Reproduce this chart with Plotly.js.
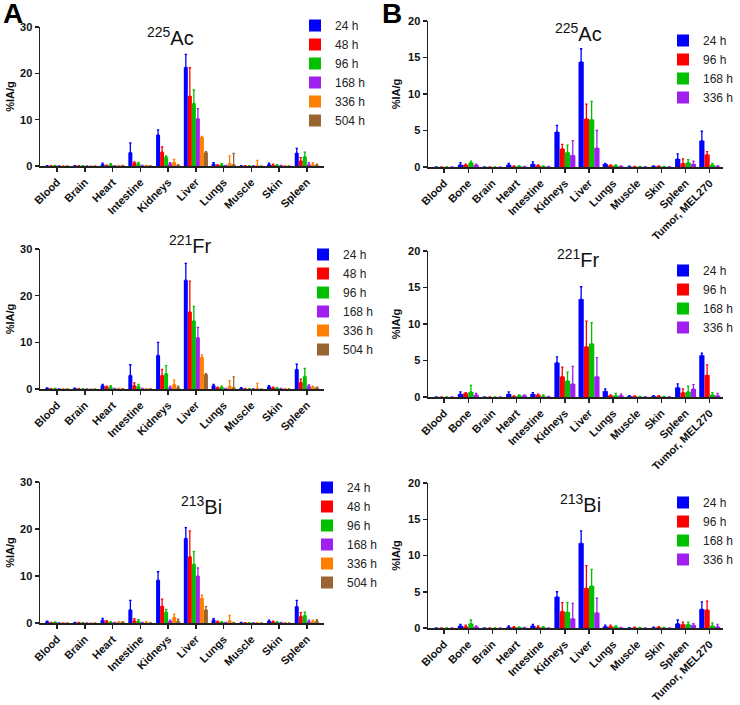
<!DOCTYPE html>
<html><head><meta charset="utf-8">
<script src="https://cdn.plot.ly/plotly-3.0.1.min.js"></script>
<style>html,body{margin:0;padding:0;background:#fff}#chart{width:740px;height:705px}</style>
</head><body><div id="chart"></div>
<script>
// ---- data ----
const organsA = ["Blood","Brain","Heart","Intestine","Kidneys","Liver","Lungs","Muscle","Skin","Spleen"];
const organsB = ["Blood","Bone","Brain","Heart","Intestine","Kidneys","Liver","Lungs","Muscle","Skin","Spleen","Tumor, MEL270"];
const timesA = ["24 h","48 h","96 h","168 h","336 h","504 h"];
const timesB = ["24 h","96 h","168 h","336 h"];
const colorsA = ["#0000FF","#FF0000","#00C000","#A020F0","#FF8000","#996633"];
const colorsB = ["#0000FF","#FF0000","#00C000","#A020F0"];

// Panel A, 225Ac
const ac225A_mean = [
  [0.05,0.05,0.3,2.9,6.7,21.3,0.4,0.05,0.3,2.8],
  [0.05,0.03,0.1,0.7,3.0,15.1,0.2,0.03,0.2,1.1],
  [0.1,0.03,0.3,0.5,1.9,13.5,0.3,0.03,0.2,2.0],
  [0.03,0.02,0.05,0.1,0.5,10.2,0.1,0.03,0.1,0.3],
  [0.03,0.02,0.1,0.1,0.8,6.2,0.5,0.1,0.05,0.3],
  [0.02,0.02,0.1,0.05,0.2,2.9,0.3,0.02,0.02,0.2]];
const ac225A_sd = [
  [0.05,0.02,0.3,2.1,1.1,2.8,0.3,0.02,0.3,1.0],
  [0.03,0.02,0.1,0.2,1.1,6.1,0.1,0.02,0.2,0.7],
  [0.05,0.02,0.2,0.3,0.3,2.9,0.2,0.02,0.1,1.0],
  [0.02,0.01,0.05,0.05,0.2,2.2,0.05,0.02,0.05,0.4],
  [0.02,0.01,0.05,0.05,0.6,0.2,1.7,1.1,0.05,0.4],
  [0.01,0.01,0.05,0.03,0.1,0.2,2.4,0.02,0.01,0.2]];
// Panel A, 221Fr
const fr221A_mean = [
  [0.2,0.15,0.7,2.9,7.2,23.3,0.7,0.2,0.5,4.2],
  [0.05,0.05,0.5,0.7,2.9,16.5,0.3,0.05,0.3,1.4],
  [0.1,0.05,0.4,0.6,3.3,14.6,0.4,0.05,0.2,2.7],
  [0.05,0.03,0.1,0.1,0.3,11.0,0.1,0.03,0.1,0.6],
  [0.05,0.03,0.1,0.05,1.0,6.8,0.6,0.1,0.05,0.4],
  [0.03,0.02,0.05,0.03,0.3,3.1,0.3,0.02,0.02,0.3]];
const fr221A_sd = [
  [0.05,0.05,0.3,2.3,2.8,3.6,0.3,0.1,0.2,1.1],
  [0.03,0.02,0.1,0.6,1.3,6.6,0.1,0.02,0.1,0.7],
  [0.05,0.02,0.3,0.4,1.7,3.1,0.2,0.02,0.1,1.7],
  [0.02,0.01,0.05,0.05,0.3,2.2,0.05,0.02,0.05,0.3],
  [0.02,0.01,0.05,0.03,0.9,0.5,1.2,1.1,0.03,0.2],
  [0.01,0.01,0.03,0.02,0.3,0.2,2.3,0.01,0.01,0.1]];
// Panel A, 213Bi
const bi213A_mean = [
  [0.3,0.1,0.6,2.8,9.1,18.0,0.6,0.1,0.4,3.5],
  [0.1,0.1,0.3,0.5,3.6,14.1,0.3,0.05,0.3,1.4],
  [0.2,0.05,0.2,0.4,2.3,12.5,0.2,0.05,0.2,1.6],
  [0.05,0.03,0.1,0.1,0.4,10.0,0.1,0.03,0.1,0.3],
  [0.05,0.03,0.2,0.1,1.2,5.3,0.5,0.03,0.05,0.3],
  [0.03,0.02,0.2,0.03,0.4,2.8,0.1,0.02,0.02,0.4]];
const bi213A_sd = [
  [0.1,0.05,0.4,2.0,1.8,2.3,0.3,0.05,0.2,1.3],
  [0.05,0.05,0.2,0.4,1.5,5.5,0.1,0.02,0.1,0.8],
  [0.05,0.02,0.1,0.3,0.6,2.7,0.1,0.02,0.1,0.7],
  [0.02,0.01,0.05,0.05,0.2,1.7,0.05,0.02,0.05,0.3],
  [0.02,0.01,0.1,0.2,0.7,0.6,1.1,0.02,0.03,0.3],
  [0.01,0.01,0.1,0.02,0.4,0.7,0.05,0.01,0.01,0.3]];
// Panel B, 225Ac
const ac225B_mean = [
  [0.02,0.3,0.02,0.3,0.4,4.8,14.4,0.4,0.05,0.1,1.1,3.6],
  [0.02,0.3,0.02,0.1,0.2,2.5,6.6,0.2,0.05,0.1,0.5,1.7],
  [0.02,0.6,0.02,0.1,0.1,2.0,6.5,0.2,0.05,0.05,0.6,0.3],
  [0.02,0.3,0.01,0.05,0.05,1.6,2.6,0.1,0.03,0.03,0.4,0.1]];
const ac225B_sd = [
  [0.01,0.3,0.01,0.2,0.3,0.9,1.8,0.1,0.05,0.05,0.7,1.3],
  [0.01,0.1,0.01,0.05,0.1,0.6,2.0,0.1,0.02,0.05,0.6,0.4],
  [0.01,0.2,0.01,0.1,0.05,1.0,2.5,0.1,0.02,0.02,0.4,0.2],
  [0.01,0.1,0.01,0.03,0.03,2.0,2.4,0.05,0.02,0.02,0.4,0.1]];
// Panel B, 221Fr
const fr221B_mean = [
  [0.02,0.4,0.02,0.4,0.4,4.7,13.4,0.8,0.1,0.1,1.3,5.7],
  [0.02,0.5,0.02,0.1,0.3,2.8,6.9,0.2,0.1,0.1,0.6,3.0],
  [0.02,0.7,0.02,0.2,0.1,2.2,7.3,0.2,0.05,0.05,0.7,0.3],
  [0.02,0.3,0.01,0.2,0.05,1.8,2.8,0.2,0.03,0.03,1.1,0.2]];
const fr221B_sd = [
  [0.01,0.3,0.01,0.3,0.2,0.8,1.7,0.3,0.1,0.1,0.5,0.3],
  [0.01,0.1,0.01,0.05,0.1,1.3,3.5,0.1,0.05,0.1,0.5,1.4],
  [0.01,0.9,0.01,0.1,0.2,1.2,2.9,0.3,0.02,0.02,0.8,0.3],
  [0.01,0.2,0.01,0.1,0.03,2.4,2.6,0.2,0.02,0.02,0.6,0.3]];
// Panel B, 213Bi
const bi213B_mean = [
  [0.02,0.3,0.02,0.1,0.3,4.3,11.7,0.2,0.03,0.05,0.6,2.6],
  [0.02,0.2,0.02,0.1,0.1,2.3,5.5,0.2,0.05,0.1,0.5,2.5],
  [0.02,0.6,0.02,0.1,0.1,2.2,5.8,0.2,0.05,0.05,0.5,0.3],
  [0.02,0.2,0.01,0.05,0.02,1.3,2.1,0.05,0.02,0.02,0.4,0.2]];
const bi213B_sd = [
  [0.01,0.2,0.01,0.2,0.2,0.7,1.7,0.2,0.02,0.05,0.5,1.0],
  [0.01,0.2,0.01,0.1,0.2,1.2,3.1,0.2,0.05,0.1,0.3,1.2],
  [0.01,0.5,0.01,0.05,0.1,1.3,2.3,0.1,0.02,0.02,0.3,0.4],
  [0.01,0.1,0.01,0.03,0.01,2.1,2.0,0.03,0.01,0.01,0.2,0.3]];

const panelTitles = ["<sup>225</sup>Ac","<sup>225</sup>Ac","<sup>221</sup>Fr","<sup>221</sup>Fr","<sup>213</sup>Bi","<sup>213</sup>Bi"];

// ---- layout helpers ----
const W = 740, H = 705;
const px = v => v / W;
const py = v => 1 - v / H;
const FONT = "Liberation Sans, Arial, sans-serif";

const panels = [
  {id:"", cats:organsA, times:timesA, colors:colorsA, mean:ac225A_mean, sd:ac225A_sd, x0:40, x1:324, top:27, bot:166, ymax:30, dt:10, range:[-0.62,9.62],
   leg:{x:295, y:11}, title:{x:170, y:37}, standoff:3},
  {id:"2", cats:organsB, times:timesB, colors:colorsB, mean:ac225B_mean, sd:ac225B_sd, x0:428, x1:723, top:21, bot:167, ymax:20, dt:5, range:[-0.67,11.55],
   leg:{x:663, y:26}, title:{x:578, y:33}, standoff:5},
  {id:"3", cats:organsA, times:timesA, colors:colorsA, mean:fr221A_mean, sd:fr221A_sd, x0:40, x1:324, top:249, bot:389, ymax:30, dt:10, range:[-0.62,9.62],
   leg:{x:303, y:240}, title:{x:190, y:245}, standoff:3},
  {id:"4", cats:organsB, times:timesB, colors:colorsB, mean:fr221B_mean, sd:fr221B_sd, x0:428, x1:723, top:251, bot:397, ymax:20, dt:5, range:[-0.67,11.55],
   leg:{x:663, y:256}, title:{x:578, y:258}, standoff:5},
  {id:"5", cats:organsA, times:timesA, colors:colorsA, mean:bi213A_mean, sd:bi213A_sd, x0:40, x1:324, top:482, bot:623, ymax:30, dt:10, range:[-0.62,9.62],
   leg:{x:307, y:473}, title:{x:201, y:505}, standoff:3},
  {id:"6", cats:organsB, times:timesB, colors:colorsB, mean:bi213B_mean, sd:bi213B_sd, x0:428, x1:723, top:483, bot:628, ymax:20, dt:5, range:[-0.67,11.55],
   leg:{x:663, y:488}, title:{x:580, y:503}, standoff:5}
];

const traces = [];
const layout = {
  width: W, height: H, margin:{l:0,r:0,t:0,b:0},
  paper_bgcolor:"#fff", plot_bgcolor:"#fff",
  barmode:"group", bargap:0.13, hovermode:false,
  font:{family:FONT, color:"#111"},
  annotations:[]
};

panels.forEach((p, pi) => {
  const legName = "legend" + p.id;
  p.times.forEach((t, si) => {
    traces.push({
      type:"bar", name:t, x:p.cats, y:p.mean[si],
      xaxis:"x"+p.id, yaxis:"y"+p.id, legend:legName,
      marker:{color:p.colors[si], line:{width:0}},
      error_y:{type:"data", symmetric:false, array:p.sd[si], arrayminus:p.sd[si].map(()=>0),
               color:p.colors[si], thickness:1.3, width:1.2},
      showlegend:true
    });
  });
  layout["xaxis"+p.id] = {
    domain:[px(p.x0), px(p.x1)], anchor:"y"+p.id, type:"category", range:p.range,
    showline:true, linecolor:"#222", linewidth:1.5, ticks:"outside", ticklen:4, tickwidth:1.5, tickcolor:"#222",
    tickangle:-45, tickfont:{size:11, family:FONT, weight:"bold", color:"#111"},
    showgrid:false, zeroline:false, automargin:false, fixedrange:true
  };
  layout["yaxis"+p.id] = {
    domain:[py(p.bot), py(p.top)], anchor:"x"+p.id, range:[0,p.ymax], dtick:p.dt, tick0:0,
    showline:true, linecolor:"#222", linewidth:1.5, ticks:"outside", ticklen:4, tickwidth:1.5, tickcolor:"#222",
    tickfont:{size:11, family:FONT, weight:"bold", color:"#111"},
    title:{text:"%IA/g", font:{size:11, family:FONT, weight:"bold", color:"#111"}, standoff:p.standoff},
    showgrid:false, zeroline:false, automargin:false, fixedrange:true
  };
  layout[legName] = {
    x:px(p.leg.x), y:py(p.leg.y), xanchor:"left", yanchor:"top",
    bgcolor:"rgba(0,0,0,0)", borderwidth:0, itemwidth:30, tracegroupgap:0,
    font:{size:12, family:FONT, color:"#222"}, itemclick:false, itemdoubleclick:false
  };
  layout.annotations.push({
    text:panelTitles[pi], xref:"paper", yref:"paper", x:px(p.title.x), y:py(p.title.y),
    xanchor:"center", yanchor:"middle", showarrow:false,
    font:{size:20, family:FONT, color:"#111"}
  });
});

layout.annotations.push({text:"<b>A</b>", xref:"paper", yref:"paper", x:px(1), y:py(13), xanchor:"left", yanchor:"middle", showarrow:false, font:{size:28, family:FONT, color:"#000"}});
layout.annotations.push({text:"<b>B</b>", xref:"paper", yref:"paper", x:px(380), y:py(13), xanchor:"left", yanchor:"middle", showarrow:false, font:{size:28, family:FONT, color:"#000"}});

Plotly.newPlot("chart", traces, layout, {staticPlot:true, displayModeBar:false});
</script>
</body></html>
